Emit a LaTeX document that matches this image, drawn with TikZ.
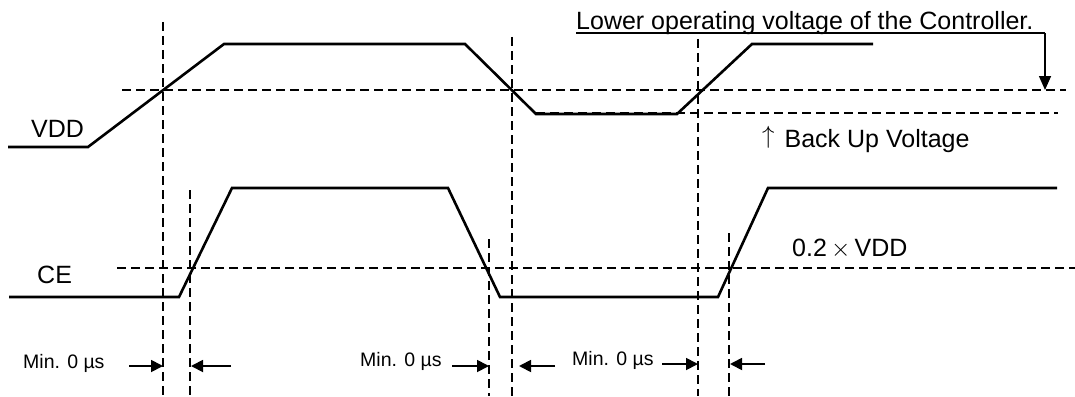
\documentclass[tikz,border=0pt]{standalone}
\usepackage{fontspec}
\setmainfont{Liberation Sans}
\usetikzlibrary{arrows.meta}
\begin{document}
\begin{tikzpicture}[x=1pt,y=-1pt,
  wave/.style={line width=2.6pt,line join=miter},
  guide/.style={line width=1.7pt,dash pattern=on 9pt off 5pt},
  lbl/.style={anchor=base west,inner sep=0pt,font=\fontsize{25}{30}\selectfont},
  minlbl/.style={anchor=base west,inner sep=0pt,font=\fontsize{19.5}{23}\selectfont},
  dimarrow/.style={line width=1.8pt,-{Triangle[length=12pt,width=12pt]}},
  callout/.style={line width=1.5pt,-{Triangle[length=14pt,width=12pt]}}]
\useasboundingbox (0,0) rectangle (1075,396);
% guide lines
\draw[guide] (163,22) -- (163,396);
\draw[guide] (190,190) -- (190,396);
\draw[guide] (489,239) -- (489,396);
\draw[guide] (512,37) -- (512,396);
\draw[guide] (698,39) -- (698,396);
\draw[guide] (729,233) -- (729,396);
\draw[guide] (122,90) -- (1066,90);
\draw[guide] (536,113) -- (1058,113);
\draw[guide] (117,268) -- (1075,268);
% waveforms
\draw[wave] (8,147) -- (88,147) -- (224,44) -- (465,44) -- (536,114) -- (677,114) -- (752,44) -- (873,44);
\draw[wave] (9,297) -- (179,297) -- (232,188) -- (448,188) -- (500,297) -- (718,297) -- (768,188) -- (1057,188);
% labels
\node[lbl] (vdd) at (31,137) {VDD};
\node[lbl] (ce) at (37,283) {CE};
\node[lbl] (lov) at (576,30) {Lower operating voltage of the Controller.};
\node[lbl] (buv) at (762,147) {\raisebox{3.5pt}{$\uparrow$}\hspace{10pt}Back Up Voltage};
\node[lbl] (thr) at (792,256) {0.2\,$\times$\,VDD};
\node[minlbl] (m1) at (23,368) {Min. 0 µs};
\node[minlbl] (m2) at (360,366) {Min. 0 µs};
\node[minlbl] (m3) at (572,365) {Min. 0 µs};
% callout
\coordinate (u0) at (576,33);
\coordinate (u1) at (1045,33);
\coordinate (u2) at (1045,90);
\draw[line width=1.5pt] (u0) -- (u1);
\draw[callout] (u1) -- (u2);
% dimension arrows
\draw[dimarrow] (129,366) -- (163,366);
\draw[dimarrow] (231,366) -- (191,366);
\draw[dimarrow] (452,366) -- (489,366);
\draw[dimarrow] (555,366) -- (519,366);
\draw[dimarrow] (662,364) -- (698,364);
\draw[dimarrow] (765,364) -- (730,364);
\end{tikzpicture}
\end{document}
